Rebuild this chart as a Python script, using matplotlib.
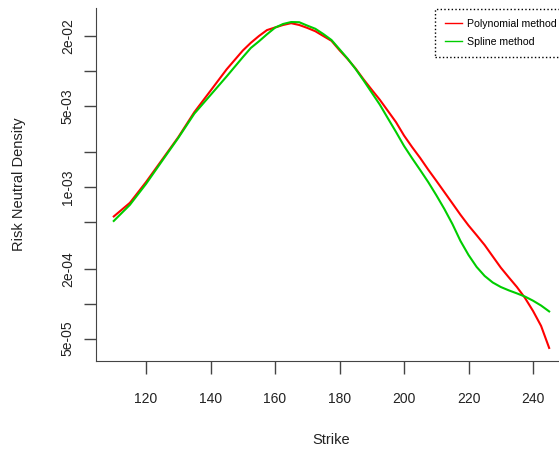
import matplotlib.pyplot as plt
import matplotlib.ticker as mticker

plt.rcParams['font.family'] = ['Liberation Sans', 'DejaVu Sans']

# strike grid and densities (log scale)
strike = [110, 115, 120, 125, 130, 135, 140, 145, 150, 152.5, 155, 157.5, 160,
          162.5, 165, 167.5, 170, 172.5, 175, 177.5, 180, 182.5, 185, 187.5,
          190, 192.5, 195, 197.5, 200, 202.5, 205, 207.5, 210, 212.5, 215,
          217.5, 220, 222.5, 225, 227.5, 230, 232.5, 235, 237.5, 240, 242.5, 245]
poly_density = [5.62e-4, 7.36e-4, 1.11e-3, 1.73e-3, 2.70e-3, 4.44e-3, 6.77e-3,
                1.035e-2, 1.50e-2, 1.75e-2, 2.00e-2, 2.25e-2, 2.37e-2,
                2.49e-2, 2.58e-2, 2.49e-2, 2.35e-2, 2.20e-2, 2.00e-2, 1.82e-2,
                1.51e-2, 1.27e-2, 1.05e-2, 8.45e-3,
                6.90e-3, 5.66e-3, 4.54e-3, 3.64e-3, 2.79e-3, 2.22e-3, 1.79e-3,
                1.42e-3, 1.14e-3, 9.11e-4, 7.28e-4,
                5.81e-4, 4.70e-4, 3.88e-4, 3.19e-4, 2.55e-4, 2.04e-4, 1.68e-4,
                1.39e-4, 1.12e-4, 8.65e-5, 6.43e-5, 4.16e-5]
spline_density = [5.14e-4, 7.07e-4, 1.07e-3, 1.69e-3, 2.66e-3, 4.31e-3, 6.22e-3,
                  8.99e-3, 1.315e-2, 1.58e-2, 1.80e-2, 2.07e-2, 2.36e-2,
                  2.54e-2, 2.64e-2, 2.63e-2, 2.46e-2, 2.31e-2, 2.08e-2, 1.85e-2,
                  1.54e-2, 1.28e-2, 1.04e-2, 8.28e-3,
                  6.52e-3, 5.14e-3, 3.92e-3, 3.00e-3, 2.27e-3, 1.78e-3, 1.41e-3,
                  1.11e-3, 8.57e-4, 6.52e-4, 4.84e-4,
                  3.46e-4, 2.62e-4, 2.07e-4, 1.73e-4, 1.52e-4, 1.39e-4, 1.30e-4,
                  1.225e-4, 1.15e-4, 1.06e-4, 9.63e-5, 8.57e-5]

x_ticks = [120, 140, 160, 180, 200, 220, 240]
y_ticks = [5e-5, 1e-4, 2e-4, 5e-4, 1e-3, 2e-3, 5e-3, 1e-2, 2e-2]
y_labels = ["5e-05", "", "2e-04", "", "1e-03", "", "5e-03", "", "2e-02"]

fig = plt.figure(figsize=(5.59, 4.54), dpi=100)
ax = fig.add_axes([0.1712, 0.2048, 0.8435, 0.7776])

ax.plot(strike, poly_density, color="#FF0000", lw=1.5, label="Polynomial method")
ax.plot(strike, spline_density, color="#00CD00", lw=1.5, label="Spline method")

ax.set_yscale("log")
ax.set_xlim(104.4, 250.6)
ax.set_ylim(3.21e-5, 0.03486)

ax.set_xticks(x_ticks)
ax.set_yticks(y_ticks)
ax.set_yticklabels(y_labels)
ax.yaxis.set_minor_locator(mticker.NullLocator())
ax.tick_params(axis="both", length=9, width=1, color="#444444", labelcolor="#222222",
               labelsize=10)
ax.tick_params(axis="x", pad=13)
ax.tick_params(axis="y", pad=6)
for lab in ax.get_yticklabels():
    lab.set_rotation(90)
    lab.set_va("center")

for side in ["top", "right"]:
    ax.spines[side].set_visible(False)
for side in ["left", "bottom"]:
    ax.spines[side].set_color("#444444")

ax.set_xlabel("Strike", fontsize=10.5, color="#222222")
ax.xaxis.set_label_coords(0.5, -0.2238)
ax.xaxis.label.set_va("center")
ax.set_ylabel("Risk Neutral Density", fontsize=10.5, color="#222222")
ax.yaxis.set_label_coords(-0.1627, 0.5)
ax.yaxis.label.set_va("center")

leg = ax.legend(loc="upper left", bbox_to_anchor=(0.7196, 0.998), borderaxespad=0,
                fontsize=7.6, handlelength=1.6, handletextpad=0.5, borderpad=0.95,
                labelspacing=0.8, fancybox=False, framealpha=1)
leg.get_frame().set_edgecolor("black")
leg.get_frame().set_linestyle(":")
leg.get_frame().set_linewidth(1)
for line in leg.get_lines():
    line.set_linewidth(1)

fig.savefig("out.png", dpi=100)
